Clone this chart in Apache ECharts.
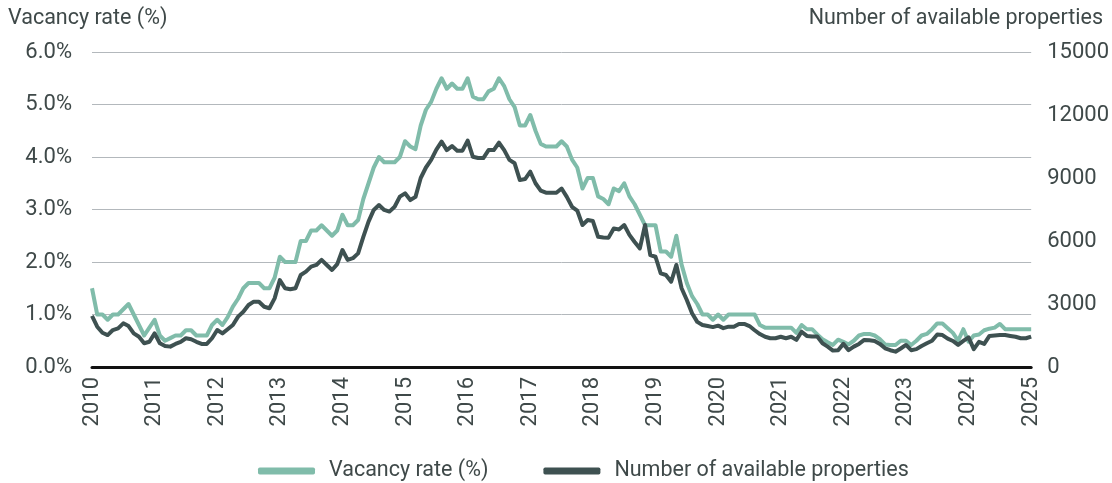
<!DOCTYPE html>
<html>
<head>
<meta charset="utf-8">
<script src="https://cdn.jsdelivr.net/npm/echarts@6/dist/echarts.min.js"></script>
<style>
  html, body { margin: 0; padding: 0; background: #fff; }
  #chart { width: 1112px; height: 483px; }
</style>
</head>
<body>
<div id="chart"></div>
<script>
// 年份（每年1月一个刻度）
const years = [2010, 2011, 2012, 2013, 2014, 2015, 2016, 2017, 2018, 2019, 2020, 2021, 2022, 2023, 2024, 2025];

// 空置率（%），月度，2010-01 ~ 2025-01
const vacancyRate = [
  1.5, 1.0, 1.0, 0.9, 1.0, 1.0, 1.1, 1.2, 1.0, 0.8, 0.6, 0.75,
  0.9, 0.6, 0.5, 0.55, 0.6, 0.6, 0.7, 0.7, 0.6, 0.6, 0.6, 0.8,
  0.9, 0.8, 0.95, 1.15, 1.3, 1.5, 1.6, 1.6, 1.6, 1.5, 1.5, 1.7,
  2.1, 2.0, 2.0, 2.0, 2.4, 2.4, 2.6, 2.6, 2.7, 2.6, 2.5, 2.6,
  2.9, 2.7, 2.7, 2.8, 3.2, 3.5, 3.8, 4.0, 3.9, 3.9, 3.9, 4.0,
  4.3, 4.2, 4.15, 4.6, 4.9, 5.05, 5.3, 5.5, 5.3, 5.4, 5.3, 5.3,
  5.5, 5.15, 5.1, 5.1, 5.25, 5.3, 5.5, 5.35, 5.1, 4.95, 4.6, 4.6,
  4.8, 4.5, 4.25, 4.2, 4.2, 4.2, 4.3, 4.2, 3.95, 3.8, 3.4, 3.6,
  3.6, 3.25, 3.2, 3.1, 3.4, 3.35, 3.5, 3.25, 3.1, 2.9, 2.7, 2.7,
  2.7, 2.2, 2.2, 2.1, 2.5, 1.95, 1.6, 1.35, 1.2, 1.0, 1.0, 0.9,
  1.0, 0.9, 1.0, 1.0, 1.0, 1.0, 1.0, 1.0, 0.8, 0.75, 0.75, 0.75,
  0.75, 0.75, 0.75, 0.65, 0.8, 0.72, 0.72, 0.62, 0.53, 0.47, 0.42, 0.52,
  0.48, 0.43, 0.5, 0.6, 0.63, 0.63, 0.6, 0.53, 0.43, 0.42, 0.42, 0.5,
  0.5, 0.42, 0.5, 0.6, 0.63, 0.72, 0.83, 0.83, 0.74, 0.65, 0.5, 0.72,
  0.48, 0.6, 0.62, 0.7, 0.73, 0.75, 0.82, 0.72, 0.72, 0.72, 0.72, 0.72,
  0.72
];

// 可租房源数量，月度
const availableProperties = [
  2430, 1920, 1630, 1520, 1760, 1840, 2080, 1950, 1600, 1440, 1130, 1200,
  1600, 1130, 1000, 970, 1100, 1200, 1370, 1320, 1200, 1100, 1100, 1370,
  1760, 1600, 1800, 2000, 2400, 2630, 2950, 3110, 3110, 2870, 2800, 3270,
  4140, 3750, 3700, 3750, 4380, 4540, 4780, 4860, 5100, 4860, 4620, 4900,
  5570, 5100, 5180, 5410, 6200, 6920, 7480, 7710, 7480, 7400, 7630, 8110,
  8270, 7950, 8100, 9000, 9500, 9860, 10350, 10730, 10330, 10520, 10300, 10300,
  10780, 10010, 9950, 9950, 10330, 10330, 10680, 10330, 9860, 9700, 8900, 8950,
  9300, 8750, 8400, 8300, 8300, 8300, 8500, 8100, 7630, 7450, 6760, 7000,
  6950, 6200, 6170, 6160, 6600, 6550, 6760, 6290, 5950, 5650, 6760, 5330,
  5250, 4460, 4380, 4060, 4860, 3750, 3190, 2560, 2150, 2000, 1950, 1900,
  1970, 1850, 1920, 1920, 2050, 2050, 1950, 1750, 1570, 1440, 1370, 1370,
  1440, 1370, 1440, 1290, 1680, 1480, 1450, 1450, 1130, 970, 780, 800,
  1100, 800, 970, 1100, 1290, 1270, 1240, 1100, 890, 800, 730, 880,
  1050, 800, 850, 1000, 1130, 1250, 1550, 1520, 1350, 1240, 1050, 1240,
  1410, 850, 1200, 1100, 1480, 1500, 1520, 1520, 1480, 1440, 1370, 1370,
  1450
];

// 月份类目
const months = [];
years.forEach(y => {
  for (let m = 1; m <= 12; m++) {
    if (months.length < vacancyRate.length) months.push(y + '-' + String(m).padStart(2, '0'));
  }
});

const FONT = 'Roboto';
const TEXT = '#3f4949';

const chart = echarts.init(document.getElementById('chart'));
chart.setOption({
  animation: false,
  textStyle: { fontFamily: FONT },
  title: [
    { text: 'Vacancy rate (%)', left: 3, top: 3,
      textStyle: { fontFamily: FONT, fontSize: 21.5, fontWeight: 'normal', color: TEXT } },
    { text: 'Number of available properties', right: 4, top: 3,
      textStyle: { fontFamily: FONT, fontSize: 21.5, fontWeight: 'normal', color: TEXT } }
  ],
  legend: {
    top: 455,
    left: 253,
    icon: 'roundRect',
    itemWidth: 57,
    itemHeight: 7,
    itemGap: 55,
    textStyle: { fontFamily: FONT, fontSize: 21.5, color: TEXT, padding: [0, 0, 0, 9] },
    data: ['Vacancy rate (%)', 'Number of available properties']
  },
  grid: { left: 92, right: 80, top: 52, bottom: 116, containLabel: false },
  xAxis: {
    type: 'category',
    data: months,
    boundaryGap: false,
    axisLine: { lineStyle: { color: '#111', width: 3 } },
    axisTick: { show: false },
    axisLabel: {
      interval: 11,
      rotate: 90,
      margin: 10,
      fontFamily: FONT,
      fontSize: 22,
      color: TEXT,
      formatter: v => v.slice(0, 4)
    },
    splitLine: { show: false }
  },
  yAxis: [
    {
      type: 'value',
      min: 0, max: 6, interval: 1,
      axisLine: { show: false },
      axisTick: { show: false },
      axisLabel: { margin: 20, fontFamily: FONT, fontSize: 22, color: TEXT,
        formatter: v => v.toFixed(1) + '%' },
      splitLine: { lineStyle: { color: '#b3b8bc', width: 1 } }
    },
    {
      type: 'value',
      min: 0, max: 15000, interval: 3000,
      axisLine: { show: false },
      axisTick: { show: false },
      axisLabel: { margin: 16, fontFamily: FONT, fontSize: 22, color: TEXT,
        formatter: v => String(v) },
      splitLine: { show: false }
    }
  ],
  series: [
    {
      name: 'Vacancy rate (%)',
      type: 'line',
      yAxisIndex: 0,
      data: vacancyRate,
      symbol: 'none',
      color: '#80bcaa',
      lineStyle: { width: 4, color: '#80bcaa', join: 'round' }
    },
    {
      name: 'Number of available properties',
      type: 'line',
      yAxisIndex: 1,
      data: availableProperties,
      symbol: 'none',
      color: '#3e5151',
      lineStyle: { width: 4, color: '#3e5151', join: 'round' }
    }
  ]
});
</script>
</body>
</html>
